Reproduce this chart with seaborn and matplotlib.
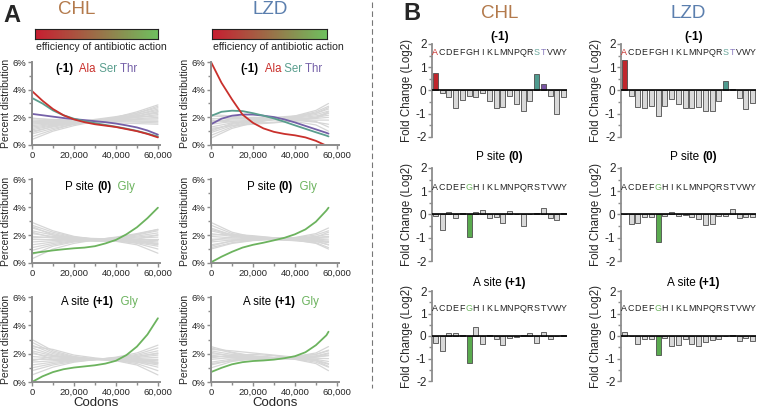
import numpy as np
import pandas as pd
import matplotlib
matplotlib.use("Agg")
import matplotlib.pyplot as plt
from matplotlib.colors import LinearSegmentedColormap
from matplotlib.lines import Line2D
from matplotlib.ticker import MultipleLocator, FuncFormatter
import seaborn as sns

sns.set_theme(style="white")
plt.rcParams["font.family"] = ["Liberation Sans", "DejaVu Sans"]
plt.rcParams["axes.unicode_minus"] = False

W, H = 757, 411

# ------------------------------------------------------------------ colours
RED, TEAL, PURPLE, GREEN = "#c9302c", "#5a9e8e", "#7560a8", "#6cb35e"
GRAY_LINE = "#d6d6d6"
SPINE = "#8c8c8c"
CHL_COL, LZD_COL = "#b37a4c", "#5b7fae"

# ------------------------------------------------------------------ panel A data
# x positions (codons) of the sampled curve points
CHL_X = [0, 10000, 20000, 30000, 40000, 50000, 60000]
LZD_X = [0, 10000, 20000, 30000, 40000, 50000, 56000]
CHL_XF = [0, 5000, 10000, 15000, 20000, 25000, 30000, 35000, 40000, 45000, 50000, 55000, 60000]
LZD_XF = [0, 5000, 10000, 15000, 20000, 25000, 30000, 35000, 40000, 45000, 50000, 55000, 56000]

# (-1) position
CHL_M1_ALA = [3.9, 3.2, 2.6, 2.15, 1.85, 1.65, 1.5, 1.4, 1.3, 1.15, 1.0, 0.8, 0.55]
CHL_M1_SER = [3.4, 3.0, 2.5, 2.15, 1.9, 1.72, 1.58, 1.45, 1.32, 1.18, 1.02, 0.82, 0.62]
CHL_M1_THR = [2.25, 2.15, 2.05, 1.95, 1.87, 1.8, 1.72, 1.65, 1.55, 1.42, 1.27, 1.05, 0.75]
LZD_M1_ALA = [6.0, 4.5, 3.3, 2.2, 1.6, 1.2, 0.95, 0.8, 0.7, 0.55, 0.3, -0.05, -0.15]
LZD_M1_SER = [2.1, 2.4, 2.48, 2.45, 2.3, 2.12, 1.92, 1.68, 1.42, 1.17, 0.92, 0.68, 0.62]
LZD_M1_THR = [1.5, 1.9, 2.12, 2.2, 2.2, 2.12, 2.02, 1.85, 1.63, 1.38, 1.13, 0.88, 0.82]

CHL_M1_GRAY = [
    [0.4, 1.0, 1.4, 1.7, 2.0, 2.4, 2.9],
    [0.6, 1.1, 1.5, 1.75, 2.0, 2.3, 2.7],
    [0.8, 1.2, 1.5, 1.7, 1.9, 2.2, 2.6],
    [1.0, 1.3, 1.55, 1.75, 1.95, 2.2, 2.5],
    [1.1, 1.4, 1.6, 1.75, 1.9, 2.1, 2.4],
    [1.2, 1.45, 1.65, 1.8, 1.95, 2.1, 2.3],
    [1.3, 1.5, 1.65, 1.75, 1.85, 2.0, 2.2],
    [1.4, 1.55, 1.7, 1.8, 1.9, 2.0, 2.1],
    [1.5, 1.6, 1.7, 1.75, 1.8, 1.9, 2.0],
    [1.6, 1.65, 1.7, 1.75, 1.8, 1.85, 1.9],
    [1.7, 1.7, 1.72, 1.75, 1.78, 1.8, 1.8],
    [1.8, 1.75, 1.75, 1.75, 1.75, 1.72, 1.7],
    [1.9, 1.85, 1.8, 1.75, 1.7, 1.65, 1.6],
    [1.6, 1.5, 1.55, 1.65, 1.8, 2.05, 2.4],
    [0.9, 1.35, 1.65, 1.85, 2.05, 2.3, 2.8],
    [1.95, 1.8, 1.7, 1.65, 1.6, 1.55, 1.5],
]
LZD_M1_GRAY = [
    [0.5, 1.2, 1.6, 1.85, 2.1, 2.5, 3.0],
    [0.7, 1.3, 1.65, 1.85, 2.05, 2.4, 2.8],
    [0.9, 1.4, 1.7, 1.85, 2.0, 2.3, 2.6],
    [1.1, 1.5, 1.72, 1.85, 1.98, 2.2, 2.45],
    [1.3, 1.6, 1.75, 1.85, 1.95, 2.1, 2.3],
    [1.5, 1.7, 1.8, 1.85, 1.9, 2.0, 2.15],
    [1.7, 1.8, 1.82, 1.85, 1.88, 1.92, 2.0],
    [1.9, 1.9, 1.88, 1.85, 1.82, 1.8, 1.8],
    [2.1, 2.0, 1.9, 1.85, 1.78, 1.65, 1.5],
    [2.2, 2.1, 1.95, 1.82, 1.7, 1.45, 1.0],
    [1.0, 1.55, 1.85, 2.0, 2.1, 2.3, 2.7],
    [1.6, 1.9, 2.0, 1.95, 1.85, 1.7, 1.3],
    [1.2, 1.4, 1.5, 1.6, 1.75, 2.0, 2.4],
    [1.8, 1.65, 1.6, 1.65, 1.75, 1.95, 2.3],
]

# P site (0)
CHL_P0_GLY = [0.7, 0.8, 0.9, 0.98, 1.05, 1.1, 1.2, 1.4, 1.65, 2.05, 2.55, 3.2, 3.95]
LZD_P0_GLY = [0.05, 0.45, 0.8, 1.1, 1.3, 1.45, 1.62, 1.8, 2.05, 2.4, 2.95, 3.75, 3.95]
CHL_P0_GRAY = [
    [2.9, 2.3, 1.9, 1.7, 1.55, 1.3, 0.7],
    [2.7, 2.2, 1.85, 1.7, 1.6, 1.4, 1.0],
    [2.5, 2.1, 1.8, 1.7, 1.6, 1.45, 1.2],
    [2.3, 2.0, 1.8, 1.7, 1.65, 1.55, 1.35],
    [2.1, 1.9, 1.75, 1.7, 1.65, 1.6, 1.5],
    [1.9, 1.8, 1.72, 1.7, 1.68, 1.65, 1.6],
    [1.7, 1.7, 1.7, 1.7, 1.7, 1.7, 1.7],
    [1.5, 1.6, 1.65, 1.7, 1.72, 1.78, 1.85],
    [1.3, 1.5, 1.62, 1.68, 1.75, 1.85, 2.0],
    [1.1, 1.4, 1.58, 1.68, 1.78, 1.92, 2.15],
    [0.9, 1.3, 1.55, 1.68, 1.8, 2.0, 2.3],
    [0.6, 1.2, 1.5, 1.65, 1.8, 2.05, 2.4],
    [0.3, 1.0, 1.4, 1.65, 1.85, 2.1, 2.4],
    [2.2, 1.8, 1.6, 1.55, 1.55, 1.5, 1.3],
    [1.8, 1.85, 1.8, 1.75, 1.7, 1.6, 1.4],
    [2.6, 2.0, 1.7, 1.6, 1.6, 1.7, 2.0],
]
LZD_P0_GRAY = [
    [2.9, 2.2, 1.85, 1.7, 1.6, 1.45, 1.1],
    [2.7, 2.1, 1.8, 1.7, 1.65, 1.55, 1.3],
    [2.5, 2.0, 1.8, 1.72, 1.7, 1.6, 1.45],
    [2.3, 1.95, 1.78, 1.72, 1.7, 1.65, 1.55],
    [2.1, 1.9, 1.78, 1.72, 1.72, 1.7, 1.65],
    [1.9, 1.8, 1.75, 1.72, 1.72, 1.75, 1.8],
    [1.7, 1.72, 1.72, 1.72, 1.75, 1.8, 1.9],
    [1.5, 1.65, 1.7, 1.72, 1.78, 1.9, 2.05],
    [1.3, 1.55, 1.65, 1.72, 1.8, 2.0, 2.3],
    [1.1, 1.45, 1.62, 1.7, 1.82, 2.1, 2.5],
    [1.0, 1.4, 1.6, 1.7, 1.75, 1.8, 1.9],
    [2.0, 2.05, 1.95, 1.8, 1.65, 1.4, 1.0],
    [1.6, 1.85, 1.9, 1.8, 1.7, 1.55, 1.3],
    [2.4, 2.0, 1.75, 1.65, 1.6, 1.55, 1.5],
    [1.2, 1.6, 1.75, 1.8, 1.8, 1.85, 2.2],
]

# A site (+1)
CHL_A1_GLY = [0.0, 0.4, 0.7, 0.9, 1.02, 1.1, 1.18, 1.3, 1.5, 1.9, 2.5, 3.35, 4.5]
LZD_A1_GLY = [0.7, 1.0, 1.25, 1.4, 1.48, 1.52, 1.58, 1.68, 1.82, 2.1, 2.6, 3.3, 3.55]
CHL_A1_GRAY = [
    [3.0, 2.2, 1.8, 1.62, 1.5, 1.2, 0.5],
    [2.8, 2.1, 1.75, 1.6, 1.52, 1.3, 0.8],
    [2.6, 2.0, 1.72, 1.6, 1.55, 1.4, 1.05],
    [2.4, 1.9, 1.7, 1.6, 1.55, 1.45, 1.2],
    [2.2, 1.85, 1.68, 1.6, 1.57, 1.5, 1.35],
    [2.0, 1.8, 1.65, 1.6, 1.58, 1.55, 1.5],
    [1.8, 1.7, 1.62, 1.6, 1.6, 1.6, 1.6],
    [1.6, 1.6, 1.6, 1.6, 1.62, 1.65, 1.75],
    [1.4, 1.5, 1.57, 1.6, 1.65, 1.72, 1.9],
    [1.2, 1.4, 1.52, 1.6, 1.67, 1.8, 2.05],
    [1.0, 1.3, 1.5, 1.6, 1.7, 1.88, 2.2],
    [0.8, 1.2, 1.45, 1.58, 1.72, 1.95, 2.4],
    [0.5, 1.05, 1.4, 1.58, 1.75, 2.05, 2.6],
    [2.5, 2.3, 1.9, 1.7, 1.55, 1.4, 1.3],
    [1.5, 1.8, 1.75, 1.65, 1.6, 1.55, 1.4],
    [2.1, 1.6, 1.5, 1.55, 1.65, 1.8, 2.0],
]
LZD_A1_GRAY = [
    [2.5, 2.1, 1.85, 1.72, 1.6, 1.3, 0.8],
    [2.4, 2.05, 1.82, 1.72, 1.62, 1.4, 1.05],
    [2.2, 1.95, 1.8, 1.72, 1.65, 1.5, 1.25],
    [2.0, 1.88, 1.78, 1.72, 1.68, 1.6, 1.45],
    [1.8, 1.8, 1.75, 1.72, 1.7, 1.68, 1.65],
    [1.6, 1.72, 1.73, 1.72, 1.73, 1.78, 1.85],
    [1.4, 1.62, 1.7, 1.72, 1.75, 1.85, 2.05],
    [1.2, 1.55, 1.68, 1.72, 1.78, 1.95, 2.25],
    [1.0, 1.45, 1.65, 1.72, 1.8, 2.05, 2.5],
    [2.3, 2.2, 2.05, 1.9, 1.75, 1.55, 1.3],
    [1.3, 1.5, 1.6, 1.65, 1.7, 1.8, 2.0],
    [1.9, 1.7, 1.6, 1.6, 1.65, 1.75, 1.9],
    [2.1, 1.8, 1.7, 1.72, 1.8, 1.95, 2.2],
    [1.7, 1.9, 1.95, 1.85, 1.72, 1.5, 1.1],
]

# ------------------------------------------------------------------ panel B data
AA = list("ACDEFGHIKLMNPQRSTVWY")
CHL_M1_FC = [0.75, -0.10, -0.30, -0.75, -0.40, -0.25, -0.30, -0.10, -0.45, -0.75,
             -0.70, -0.25, -0.60, -0.90, -0.45, 0.70, 0.30, -0.25, -1.00, -0.30]
LZD_M1_FC = [1.30, -0.25, -0.70, -0.75, -0.65, -1.10, -0.65, -0.35, -0.60, -0.75,
             -0.75, -0.70, -0.90, -0.87, -0.45, 0.40, 0.05, -0.32, -0.80, -0.55]
CHL_P0_FC = [-0.05, -0.65, 0.10, -0.15, 0.05, -0.95, 0.10, 0.20, -0.15, -0.10,
             -0.35, 0.15, 0.00, -0.50, 0.00, 0.05, 0.30, -0.15, -0.25, 0.08]
LZD_P0_FC = [0.02, -0.40, -0.35, -0.10, -0.10, -1.20, -0.05, 0.10, -0.05, -0.03,
             -0.12, -0.20, -0.45, -0.40, -0.08, -0.08, 0.25, -0.15, -0.10, -0.10]
CHL_A1_FC = [-0.30, -0.65, 0.15, 0.15, 0.03, -1.20, 0.40, -0.35, 0.05, -0.15,
             -0.40, -0.10, -0.03, 0.05, 0.15, -0.30, 0.20, -0.15, 0.00, 0.05]
LZD_A1_FC = [0.20, 0.00, -0.35, -0.13, -0.13, -0.85, -0.10, -0.45, -0.40, -0.15,
             -0.35, -0.45, -0.28, -0.17, -0.15, 0.00, 0.05, -0.20, -0.10, -0.20]

BAR_GRAY = "#d9d9d9"
BAR_HI_M1 = {"A": "#c0272d", "S": "#4f9b8f", "T": "#7a55a5"}
BAR_HI_G = {"G": "#5aaa4f"}
TXT_HI_M1 = {"A": "#c9302c", "S": "#6aa79c", "T": "#8a7bbf"}
TXT_HI_G = {"G": "#6cb35e"}


def px_axes(fig, x0, y0, x1, y1):
    return fig.add_axes([x0 / W, 1 - y1 / H, (x1 - x0) / W, (y1 - y0) / H])


def rich_text(ax, x, y, pieces, size=8):
    t = ax.text(x, y, pieces[0][0], color=pieces[0][1], fontweight=pieces[0][2],
                fontsize=size, transform=ax.transAxes, va="center", ha="left")
    for s, c, w in pieces[1:]:
        t = ax.annotate(s, xycoords=t, xy=(1, 0), va="bottom", ha="left",
                        color=c, fontweight=w, fontsize=size)


def line_panel(ax, xg, gray, colored, show_xlabel):
    recs = [(i, xv, yv) for i, row in enumerate(gray) for xv, yv in zip(xg, row)]
    gdf = pd.DataFrame(recs, columns=["line", "codon", "pct"])
    sns.lineplot(data=gdf, x="codon", y="pct", units="line", estimator=None,
                 color=GRAY_LINE, lw=0.9, ax=ax)
    for xs, ys, c in colored:
        sns.lineplot(x=xs, y=ys, color=c, lw=1.3, ax=ax)
    ax.set_xlim(0, 61000)
    ax.set_ylim(0, 6)
    ax.set_yticks([0, 2, 4, 6])
    ax.yaxis.set_major_formatter(FuncFormatter(lambda v, p: f"{v:.0f}%"))
    ax.yaxis.set_minor_locator(MultipleLocator(1))
    ax.set_xticks([0, 20000, 40000, 60000])
    ax.xaxis.set_major_formatter(FuncFormatter(lambda v, p: f"{v:,.0f}"))
    ax.xaxis.set_minor_locator(MultipleLocator(10000))
    for s in ("top", "right"):
        ax.spines[s].set_visible(False)
    for s in ("left", "bottom"):
        ax.spines[s].set_color(SPINE)
        ax.spines[s].set_linewidth(1.4)
    ax.tick_params(which="both", direction="out", color=SPINE, labelsize=6.8,
                   pad=1, left=True, bottom=True, width=1)
    ax.tick_params(which="major", length=3)
    ax.tick_params(which="minor", length=2)
    ax.set_ylabel("Percent distribution", fontsize=7.5, labelpad=1)
    ax.set_xlabel("Codons" if show_xlabel else "", fontsize=9.5, labelpad=0)


def bar_panel(ax, values, hi_bar, hi_txt, letter_y):
    df = pd.DataFrame({"aa": AA, "fc": values})
    pal = {a: hi_bar.get(a, BAR_GRAY) for a in AA}
    sns.barplot(data=df, x="aa", y="fc", hue="aa", palette=pal, order=AA,
                legend=False, width=0.72, edgecolor="#4d4d4d", linewidth=0.6,
                saturation=1, ax=ax)
    ax.axhline(0, color="black", lw=1.2, zorder=5)
    ax.set_xlim(-0.5, 19.5)
    ax.set_ylim(-2, 2)
    ax.set_xticks([])
    ax.set_xlabel("")
    ax.set_yticks([-2, -1, 0, 1, 2])
    ax.yaxis.set_minor_locator(MultipleLocator(0.5))
    for s in ("top", "right", "bottom"):
        ax.spines[s].set_visible(False)
    ax.spines["left"].set_color(SPINE)
    ax.spines["left"].set_linewidth(1.3)
    ax.tick_params(axis="y", which="both", direction="out", color=SPINE,
                   labelsize=8.5, pad=1, left=True, width=1)
    ax.tick_params(axis="y", which="major", length=3)
    ax.tick_params(axis="y", which="minor", length=2)
    ax.set_ylabel("Fold Change (Log2)", fontsize=8.3, labelpad=2)
    for i, a in enumerate(AA):
        ax.text(i, letter_y, a, ha="center", va="center", fontsize=6.4,
                color=hi_txt.get(a, "#222222"))


fig = plt.figure(figsize=(W / 100, H / 100), dpi=100)

# ------------------------------------------------------------------ panel A
fig.text(3 / W, 1 - 15 / H, "A", fontsize=17, fontweight="bold", va="center")
fig.text(77 / W, 1 - 9 / H, "CHL", fontsize=13.5, color=CHL_COL, ha="center", va="center")
fig.text(270 / W, 1 - 9 / H, "LZD", fontsize=13.5, color=LZD_COL, ha="center", va="center")

grad_cmap = LinearSegmentedColormap.from_list("eff", ["#c81e31", "#6fc05f"])
grad = np.linspace(0, 1, 256)[None, :]
for x0, x1 in [(35, 158), (212, 327)]:
    cax = px_axes(fig, x0, 29, x1, 39)
    cax.imshow(grad, aspect="auto", cmap=grad_cmap)
    cax.set_xticks([])
    cax.set_yticks([])
    for s in cax.spines.values():
        s.set_color("#222222")
        s.set_linewidth(0.8)
    fig.text((x0 + 1) / W, 1 - 47 / H, "efficiency of antibiotic action",
             fontsize=7.6, va="center", ha="left")

rows_y = [(62, 145), (179, 263), (297, 382)]
cols_x = [(32, 160), (211, 339)]
panels = [
    [(CHL_X, CHL_M1_GRAY, [(CHL_XF, CHL_M1_THR, PURPLE), (CHL_XF, CHL_M1_SER, TEAL),
                           (CHL_XF, CHL_M1_ALA, RED)]),
     (LZD_X, LZD_M1_GRAY, [(LZD_XF, LZD_M1_THR, PURPLE), (LZD_XF, LZD_M1_SER, TEAL),
                           (LZD_XF, LZD_M1_ALA, RED)])],
    [(CHL_X, CHL_P0_GRAY, [(CHL_XF, CHL_P0_GLY, GREEN)]),
     (LZD_X, LZD_P0_GRAY, [(LZD_XF, LZD_P0_GLY, GREEN)])],
    [(CHL_X, CHL_A1_GRAY, [(CHL_XF, CHL_A1_GLY, GREEN)]),
     (LZD_X, LZD_A1_GRAY, [(LZD_XF, LZD_A1_GLY, GREEN)])],
]
titles = [
    [("(-1)", "black", "bold"), ("  Ala", RED, "normal"), (" Ser", TEAL, "normal"),
     (" Thr", PURPLE, "normal")],
    [("P site ", "black", "normal"), ("(0)", "black", "bold"), ("  Gly", GREEN, "normal")],
    [("A site ", "black", "normal"), ("(+1)", "black", "bold"), ("  Gly", GREEN, "normal")],
]
title_x = [[0.18, 0.23], [0.26, 0.28], [0.23, 0.25]]
title_y = [0.92, 0.905, 0.94]

for r, (y0, y1) in enumerate(rows_y):
    for c, (x0, x1) in enumerate(cols_x):
        ax = px_axes(fig, x0, y0, x1, y1)
        xg, gray, colored = panels[r][c]
        line_panel(ax, xg, gray, colored, r == 2)
        rich_text(ax, title_x[r][c], title_y[r], titles[r], size=8.3)

# divider
fig.add_artist(Line2D([372 / W, 372 / W], [1 - 2 / H, 1 - 388 / H], color="#777777",
                      lw=0.8, ls=(0, (5, 3))))

# ------------------------------------------------------------------ panel B
fig.text(403 / W, 1 - 13 / H, "B", fontsize=17, fontweight="bold", va="center")
fig.text(500 / W, 1 - 14 / H, "CHL", fontsize=13.5, color=CHL_COL, ha="center", va="center")
fig.text(688 / W, 1 - 14 / H, "LZD", fontsize=13.5, color=LZD_COL, ha="center", va="center")

bar_rows = [(44, 137), (168, 261), (291, 381)]
bar_cols = [(432, 567), (621, 756)]
bar_data = [[CHL_M1_FC, LZD_M1_FC], [CHL_P0_FC, LZD_P0_FC], [CHL_A1_FC, LZD_A1_FC]]
bar_hi = [(BAR_HI_M1, TXT_HI_M1), (BAR_HI_G, TXT_HI_G), (BAR_HI_G, TXT_HI_G)]
letter_ys = [1.65, 1.17, 1.24]
bar_titles = [
    [("(-1)", "black", "bold")],
    [("P site ", "black", "normal"), ("(0)", "black", "bold")],
    [("A site ", "black", "normal"), ("(+1)", "black", "bold")],
]
bar_title_px = [37, 157, 283]

for r, (y0, y1) in enumerate(bar_rows):
    for c, (x0, x1) in enumerate(bar_cols):
        ax = px_axes(fig, x0, y0, x1, y1)
        bar_panel(ax, bar_data[r][c], bar_hi[r][0], bar_hi[r][1], letter_ys[r])
        # centered title made from pieces
        tmp = fig.text(0, 0, "".join(p[0] for p in bar_titles[r]), fontsize=8.5)
        fig.canvas.draw()
        wpx = tmp.get_window_extent().width
        tmp.remove()
        cx = (x0 + x1) / 2 + (5 if c == 1 else 0)
        start = (cx - wpx / 2 - x0) / (x1 - x0)
        ypos = (y1 - bar_title_px[r]) / (y1 - y0)
        rich_text(ax, start, ypos, bar_titles[r], size=8.5)

fig.savefig("out.png", dpi=100)
